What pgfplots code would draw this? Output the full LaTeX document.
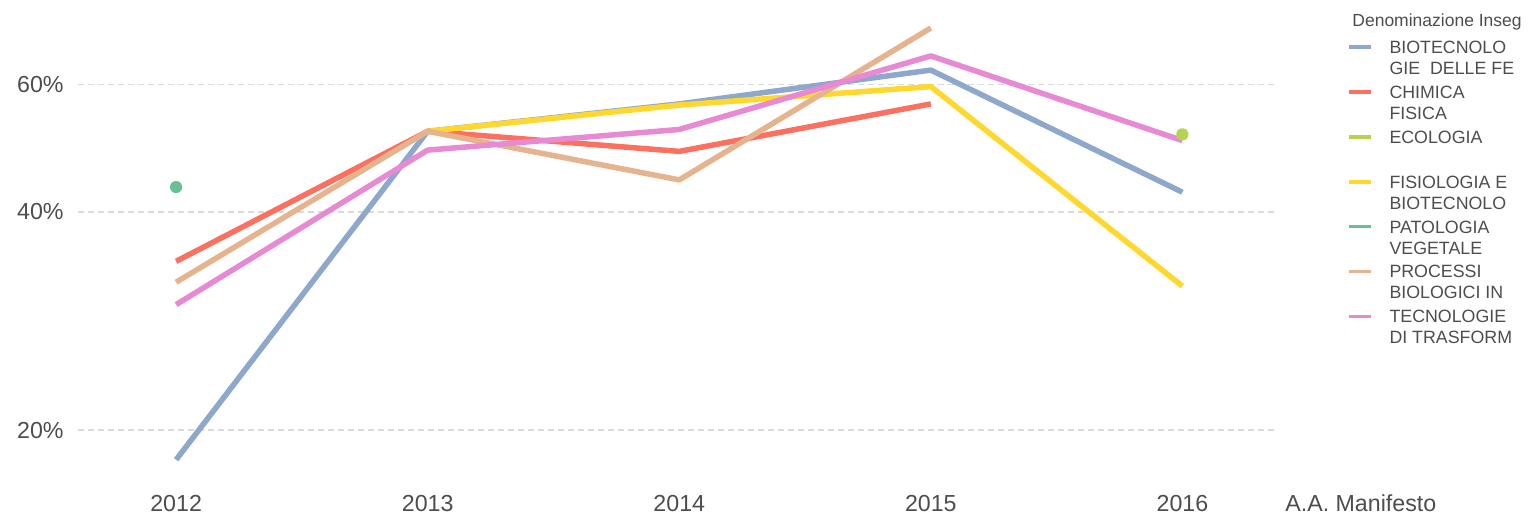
\documentclass[border=0pt]{standalone}
\usepackage{fontspec}
\setmainfont{Liberation Sans}
\usepackage{pgfplots}
\pgfplotsset{compat=1.18}

\definecolor{cblue}{RGB}{141,168,203}
\definecolor{cred}{RGB}{252,112,96}
\definecolor{ceco}{RGB}{181,212,75}
\definecolor{cyel}{RGB}{255,215,45}
\definecolor{cgreen}{RGB}{102,194,149}
\definecolor{ctan}{RGB}{229,180,142}
\definecolor{cpink}{RGB}{231,138,211}
\definecolor{txt}{RGB}{77,77,77}
\definecolor{gridc}{RGB}{218,218,218}

\begin{document}
\begin{tikzpicture}
\useasboundingbox (0,0) rectangle (765.5pt,258pt);
\begin{axis}[
    at={(39pt,17.5pt)}, anchor=south west,
    scale only axis,
    width=600pt, height=237.8pt,
    clip=false,
    ymode=log,
    xmin=2011.61, xmax=2016.38,
    ymin=17.01, ymax=77.15,
    xtick={2012,2013,2014,2015,2016},
    xticklabels={2012,2013,2014,2015,2016},
    ytick={20,40,60},
    yticklabels={20\%,40\%,60\%},
    yminorticks=false, xminorticks=false,
    major tick length=0pt,
    axis line style={draw=none},
    ymajorgrids,
    major grid style={gridc, line width=0.9pt, dash pattern=on 3pt off 2pt},
    /pgf/number format/assume math mode=true,
    tick label style={font=\fontsize{11.6}{13.5}\selectfont, text=txt, inner sep=0pt},
    xticklabel style={anchor=base, yshift=-15.25pt},
    yticklabel style={anchor=east, xshift=-7pt},
    xlabel={A.A. Manifesto},
    xlabel style={at={(axis description cs:1.0058,-0.0641)}, anchor=base west,
        inner sep=0pt, font=\fontsize{11.6}{13.5}\selectfont, text=txt},
    every axis plot/.append style={line width=2.75pt, line join=round},
    legend image code/.code={\draw[#1, line width=1.75pt] (0pt,6.3pt) -- (11pt,6.3pt);},
    legend cell align=left,
    legend style={at={(1.0575,0.9308)}, anchor=north west, draw=none, fill=none,
        inner sep=0pt, column sep=8.3pt, row sep=1.45pt,
        nodes={inner sep=0pt, text depth=, align=left, text=txt,
            font=\fontsize{8.9}{10.5}\selectfont}},
]
\addplot[cblue] coordinates {(2012,18.2) (2013,51.7) (2014,56.4) (2015,62.8) (2016,42.6)};
\addlegendentry{\strut BIOTECNOLO\\\strut GIE\ \ DELLE FE}
\addplot[cred] coordinates {(2012,34.2) (2013,51.7) (2014,48.5) (2015,56.4)};
\addlegendentry{\strut CHIMICA\\\strut FISICA}
\addplot[ceco, mark=*, mark size=1.75pt, mark options={draw=none, fill=ceco}] coordinates {(2016,51.2)};
\addlegendentry{\strut ECOLOGIA\\\strut}
\addplot[cyel] coordinates {(2013,51.7) (2014,56.2) (2015,59.6) (2016,31.6)};
\addlegendentry{\strut FISIOLOGIA E\\\strut BIOTECNOLO}
\addplot[cgreen, mark=*, mark size=1.75pt, mark options={draw=none, fill=cgreen}] coordinates {(2012,43.3)};
\addlegendentry{\strut PATOLOGIA\\\strut VEGETALE}
\addplot[ctan] coordinates {(2012,32.0) (2013,51.7) (2014,44.3) (2015,71.8)};
\addlegendentry{\strut PROCESSI\\\strut BIOLOGICI IN}
\addplot[cpink] coordinates {(2012,29.8) (2013,48.7) (2014,52.0) (2015,65.7) (2016,50.2)};
\addlegendentry{\strut TECNOLOGIE\\\strut DI TRASFORM}
\end{axis}
\node[anchor=base west, inner sep=0pt, text=txt, font=\fontsize{8.75}{10}\selectfont] at (676pt,245pt) {Denominazione Inseg};
\end{tikzpicture}
\end{document}
